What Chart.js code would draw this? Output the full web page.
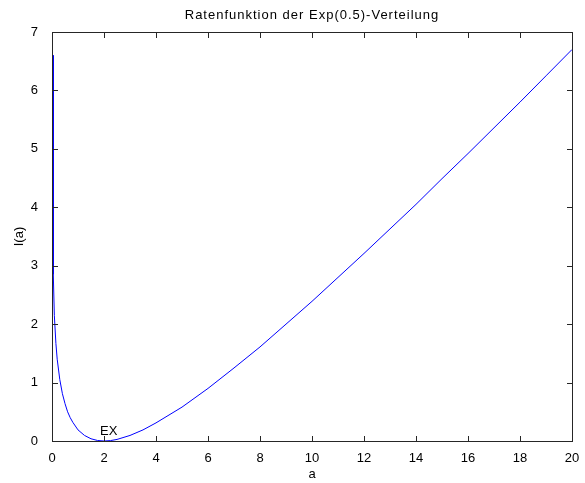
<!DOCTYPE html>
<html>
<head>
<meta charset="utf-8">
<script src="https://cdn.jsdelivr.net/npm/chart.js@4"></script>
<style>
  html, body { margin: 0; padding: 0; background: #fff; }
  #wrap { width: 585px; height: 483px; }
</style>
</head>
<body>
<div id="wrap"><canvas id="rateChart" width="585" height="483"></canvas></div>
<script>
const titleText = "Ratenfunktion der Exp(0.5)-Verteilung";

// a values and I(a)
const aValues = [0.05, 0.05, 0.09, 0.15, 0.2, 0.3, 0.4, 0.5, 0.6, 0.7, 0.8, 1, 1.25, 1.5, 1.75, 2, 2.25, 2.5, 3, 3.5, 4, 5, 6, 7, 8, 9, 10, 11, 12, 13, 14, 15, 16, 17, 18, 19, 20];
const iValues = [6.60, 2.85, 2.15, 1.67, 1.40, 1.05, 0.81, 0.64, 0.50, 0.40, 0.32, 0.19, 0.095, 0.038, 0.009, 0, 0.007, 0.027, 0.095, 0.19, 0.31, 0.58, 0.90, 1.25, 1.61, 2.00, 2.39, 2.80, 3.21, 3.63, 4.05, 4.49, 4.92, 5.36, 5.80, 6.25, 6.70];

const xTicks = [0, 2, 4, 6, 8, 10, 12, 14, 16, 18, 20];
const yTicks = [0, 1, 2, 3, 4, 5, 6, 7];

const marker = { label: "EX", a: 1.85, y: 0.17 };

const axisColor = "#262626";
const fontFamily = "'Liberation Sans', Arial, sans-serif";

// box frame, inward ticks, title and the EX label
const framePlugin = {
    id: "frame",
    afterDraw(chart) {
        const ctx = chart.ctx;
        const area = chart.chartArea;
        const xs = chart.scales.x;
        const ys = chart.scales.y;
        const tick = 5;
        const l = Math.round(area.left), r = Math.round(area.right);
        const t = Math.round(area.top), b = Math.round(area.bottom);

        ctx.save();
        ctx.fillStyle = axisColor;
        ctx.fillRect(l, t, r - l + 1, 1);
        ctx.fillRect(l, b, r - l + 1, 1);
        ctx.fillRect(l, t, 1, b - t + 1);
        ctx.fillRect(r, t, 1, b - t + 1);
        xTicks.forEach(v => {
            const px = Math.round(xs.getPixelForValue(v));
            ctx.fillRect(px, b - tick, 1, tick);
            ctx.fillRect(px, t + 1, 1, tick);
        });
        yTicks.forEach(v => {
            const py = Math.round(ys.getPixelForValue(v));
            ctx.fillRect(l + 1, py, tick, 1);
            ctx.fillRect(r - tick, py, tick, 1);
        });

        ctx.fillStyle = "#000";
        ctx.font = "13px " + fontFamily;
        ctx.textAlign = "center";
        ctx.textBaseline = "middle";
        ctx.letterSpacing = "1px";
        ctx.fillText(titleText, (area.left + area.right) / 2, 15);
        ctx.letterSpacing = "0px";

        ctx.textAlign = "left";
        ctx.fillText(marker.label, xs.getPixelForValue(marker.a), ys.getPixelForValue(marker.y));
        ctx.restore();
    }
};

new Chart(document.getElementById("rateChart"), {
    type: "scatter",
    data: {
        datasets: [{
            data: aValues.map((a, i) => ({ x: a, y: iValues[i] })),
            showLine: true,
            borderColor: "#0000ff",
            borderWidth: 1,
            pointRadius: 0,
            tension: 0,
            clip: 2
        }]
    },
    options: {
        responsive: false,
        animation: false,
        layout: { padding: { top: 32, right: 13, left: 0, bottom: 0 } },
        plugins: {
            legend: { display: false },
            title: { display: false },
            tooltip: { enabled: false }
        },
        scales: {
            x: {
                type: "linear",
                min: 0,
                max: 20,
                afterBuildTicks: s => { s.ticks = xTicks.map(v => ({ value: v })); },
                afterFit: s => { s.height = 42; },
                grid: { display: false },
                border: { display: false },
                ticks: { color: "#000", font: { family: fontFamily, size: 13 }, padding: 2, maxRotation: 0 },
                title: { display: true, text: "a", color: "#000", font: { family: fontFamily, size: 13 }, padding: { top: 0, bottom: 1 } }
            },
            y: {
                type: "linear",
                min: 0,
                max: 7,
                afterBuildTicks: s => { s.ticks = yTicks.map(v => ({ value: v })); },
                afterFit: s => { s.width = 52; },
                grid: { display: false },
                border: { display: false },
                ticks: { color: "#000", font: { family: fontFamily, size: 13 }, padding: 6 },
                title: { display: true, text: "I(a)", color: "#000", font: { family: fontFamily, size: 13 }, padding: { top: 12, bottom: 0 } }
            }
        }
    },
    plugins: [framePlugin]
});
</script>
</body>
</html>
